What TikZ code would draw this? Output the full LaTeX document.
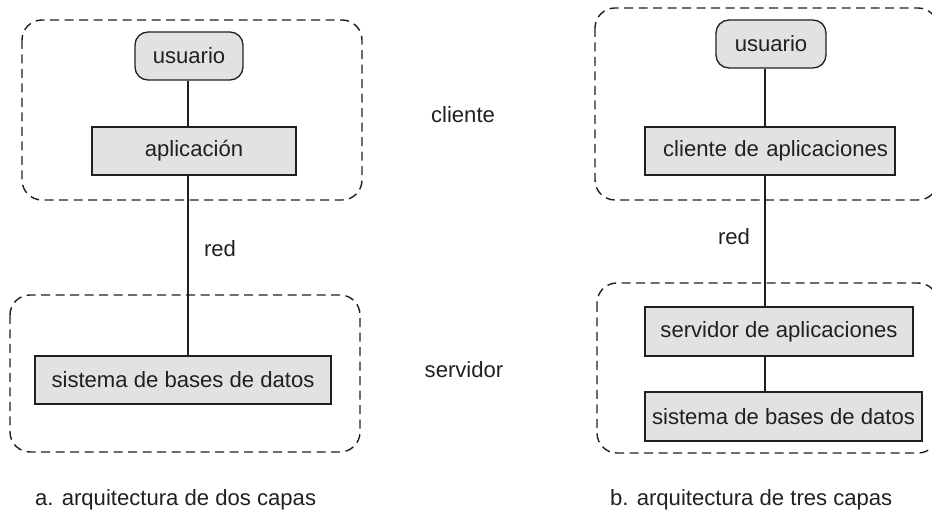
\documentclass[tikz,border=0pt]{standalone}
\usepackage{fontspec}
\setmainfont{Liberation Sans}
\usetikzlibrary{positioning}
\definecolor{boxfill}{HTML}{E2E2E2}
\definecolor{ink}{HTML}{231F20}
\tikzset{
  every node/.style={font=\fontsize{22.1}{26}\selectfont, text=ink},
  tier/.style={draw=ink, line width=1.4pt, dash pattern=on 9pt off 5.5pt, rounded corners=20pt},
  userbox/.style={draw=ink, fill=boxfill, line width=1.3pt, rounded corners=13pt, inner sep=0pt},
  compbox/.style={draw=ink, fill=boxfill, line width=1.3pt, inner sep=0pt},
  plain/.style={inner sep=0pt},
  link/.style={draw=ink, line width=1.3pt}
}
\begin{document}
\begin{tikzpicture}[x=1pt, y=-1pt]
\useasboundingbox (0,0) rectangle (932,510);
\clip (0,0) rectangle (932,510);

% dashed tier frames
\draw[tier] (22,20) rectangle (362,200);
\draw[tier] (10,295) rectangle (360,452);
\draw[tier] (595,8) rectangle (938,200);
\draw[tier] (597,283) rectangle (938,453);

% two-tier architecture
\node[userbox, minimum width=108pt, minimum height=48pt] (u1) at (189,56) {usuario};
\node[compbox, minimum width=204pt, minimum height=48pt] (a1) at (194,151) {aplicación};
\node[compbox, minimum width=296pt, minimum height=48pt] (s1) at (183,380) {sistema de bases de datos};
\draw[link] ([xshift=-1pt]u1.south) -- ([xshift=-1pt]u1.south |- a1.north);
\draw[link] ([xshift=-1pt]u1.south |- a1.south) -- ([xshift=-1pt]u1.south |- s1.north);
\node[plain] (red1) at (220,249) {red};

% three-tier architecture
\node[userbox, minimum width=110pt, minimum height=48pt] (u2) at (771,44) {usuario};
\node[compbox, minimum width=250pt, minimum height=48pt, text width=236pt, align=right] (c2) at (770,151) {cliente de aplicaciones};
\node[compbox, minimum width=268pt, minimum height=49pt] (sv2) at (779,331.5) {servidor de aplicaciones};
\node[compbox, minimum width=277pt, minimum height=49pt] (s2) at (783.5,416.5) {sistema de bases de datos};
\draw[link] ([xshift=-6pt]u2.south) -- ([xshift=-6pt]u2.south |- c2.north);
\draw[link] ([xshift=-6pt]u2.south |- c2.south) -- ([xshift=-6pt]u2.south |- sv2.north);
\draw[link] ([xshift=-6pt]u2.south |- sv2.south) -- ([xshift=-6pt]u2.south |- s2.north);
\node[plain] (red2) at (734,237) {red};

% tier labels
\node[plain] (cli) at (463,115) {cliente};
\node[plain] (srv) at (464,370) {servidor};

% captions
\node[plain, anchor=base west] (capa) at (35,505) {a. arquitectura de dos capas};
\node[plain, anchor=base west] (capb) at (610,505) {b. arquitectura de tres capas};
\end{tikzpicture}
\end{document}
